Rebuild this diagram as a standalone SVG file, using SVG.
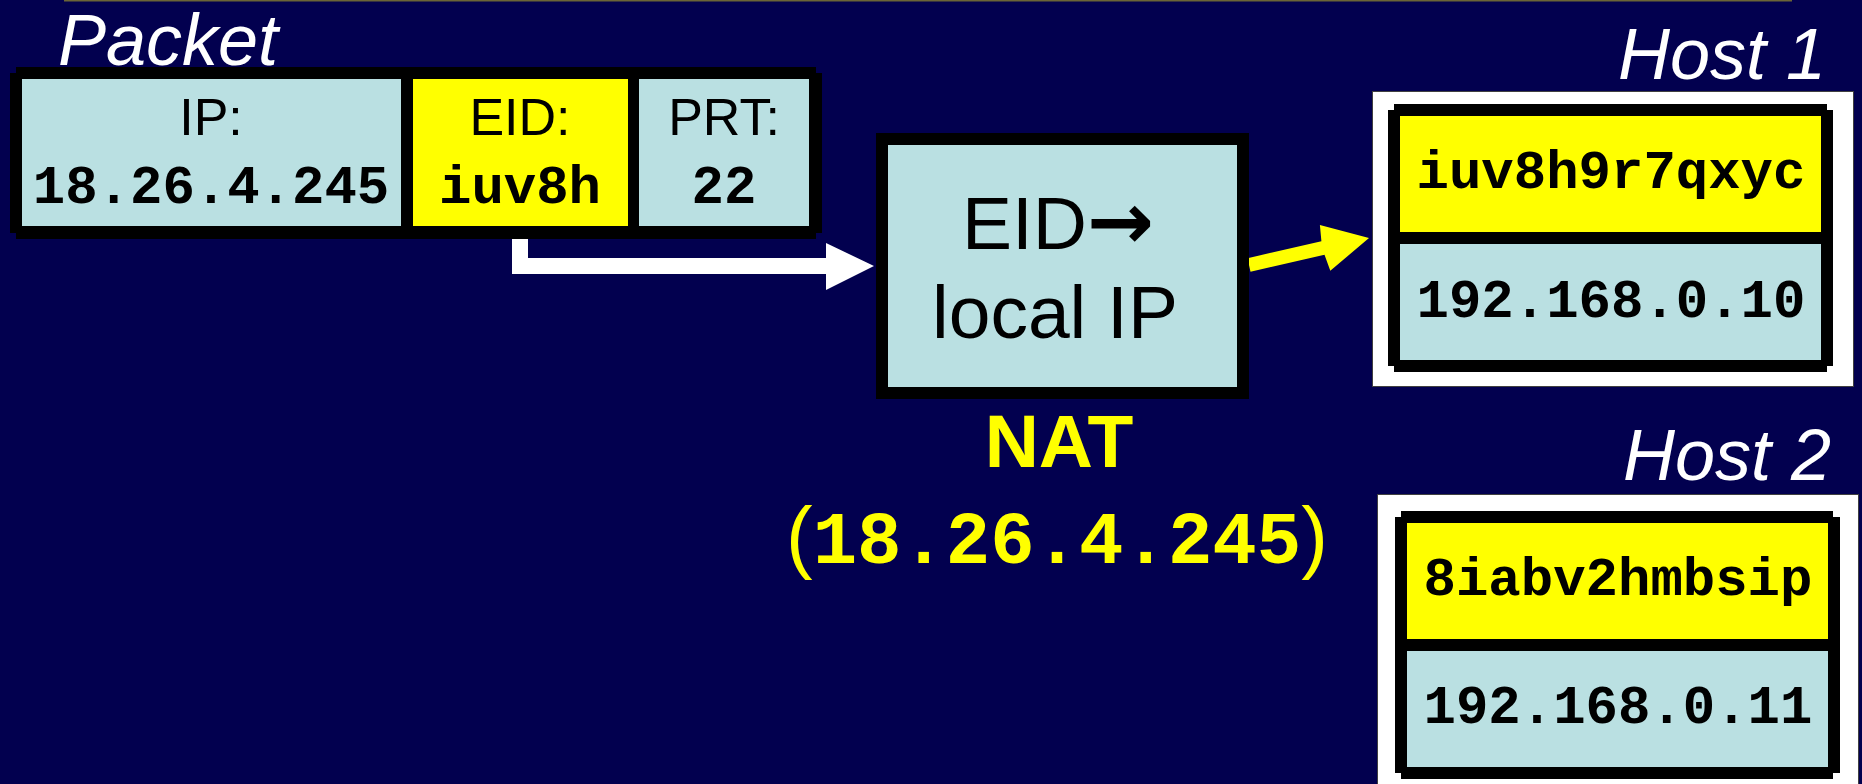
<svg xmlns="http://www.w3.org/2000/svg" width="1862" height="784" viewBox="0 0 1862 784">
  <style>
    .cellb { fill: #bae0e2; }
    .celly { fill: #ffff00; }
    .blk { fill: #000000; }
    .ttl { font-family: "Liberation Sans", Arial, sans-serif; font-style: italic; font-size: 72px; fill: #ffffff; }
    .lbl { font-family: "Liberation Sans", Arial, sans-serif; font-size: 52px; fill: #000000; text-anchor: middle; }
    .mono { font-family: "Liberation Mono", "Courier New", monospace; font-weight: bold; font-size: 54px; fill: #000000; text-anchor: middle; }
    .big { font-family: "Liberation Sans", Arial, sans-serif; font-size: 75px; fill: #000000; }
  </style>
  <rect x="0" y="0" width="1862" height="784" fill="#02004f"/>
  <line x1="64" y1="0.5" x2="1792" y2="0.5" stroke="#6b6436" stroke-width="2"/>

  <g id="connectors">
    <path d="M512,235 L528,235 L528,258 L826,258 L826,243 L874,266 L826,290 L826,274 L512,274 Z" fill="#ffffff"/>
    <polygon points="1247.5,258.2 1321.4,241.2 1319.9,225 1369,238 1330.3,270.8 1324.5,254.8 1250.5,271.8" fill="#ffff00"/>
  </g>

  <g id="packet">
    <text class="ttl" x="58" y="65">Packet</text>
    <rect class="blk" x="16" y="67" width="800" height="172"/>
    <rect class="blk" x="10" y="73" width="812" height="160"/>
    <rect class="cellb" x="22" y="79" width="379" height="147"/>
    <rect class="celly" x="413" y="79" width="215" height="147"/>
    <rect class="cellb" x="639" y="79" width="170" height="147"/>
    <text class="lbl" x="211" y="135">IP:</text>
    <text class="mono" x="211" y="203">18.26.4.245</text>
    <text class="lbl" x="520" y="135">EID:</text>
    <text class="mono" x="520" y="203">iuv8h</text>
    <text class="lbl" x="724" y="135">PRT:</text>
    <text class="mono" x="724" y="203">22</text>
  </g>

  <g id="nat">
    <rect class="blk" x="876" y="133" width="373" height="266"/>
    <rect class="cellb" x="888" y="145" width="349" height="242"/>
    <text class="big" x="962" y="249">EID<tspan font-family="DejaVu Sans, sans-serif" font-weight="bold" font-size="80">→</tspan></text>
    <text class="big" x="1055" y="338" text-anchor="middle">local IP</text>
    <text x="1059" y="467" font-family="Liberation Sans, Arial, sans-serif" font-weight="bold" font-size="75" fill="#ffff00" text-anchor="middle">NAT</text>
    <text x="786" y="563" fill="#ffff00"><tspan font-family="Liberation Sans, Arial, sans-serif" font-size="80">(</tspan><tspan font-family="Liberation Mono, Courier New, monospace" font-weight="bold" font-size="74">18.26.4.245</tspan><tspan font-family="Liberation Sans, Arial, sans-serif" font-size="80">)</tspan></text>
  </g>

  <g id="host1">
    <text class="ttl" x="1826" y="79" text-anchor="end">Host 1</text>
    <rect x="1372.5" y="91.5" width="481" height="295" fill="#ffffff" stroke="#404040" stroke-width="1"/>
    <rect class="blk" x="1394" y="104" width="433" height="268"/>
    <rect class="blk" x="1388" y="110" width="445" height="256"/>
    <rect class="celly" x="1400" y="116" width="421" height="116"/>
    <rect class="cellb" x="1400" y="244" width="421" height="116"/>
    <text class="mono" x="1611" y="188">iuv8h9r7qxyc</text>
    <text class="mono" x="1611" y="317">192.168.0.10</text>
  </g>

  <g id="host2">
    <text class="ttl" x="1831" y="480" text-anchor="end">Host 2</text>
    <rect x="1377.5" y="494.5" width="481" height="300" fill="#ffffff" stroke="#404040" stroke-width="1"/>
    <rect class="blk" x="1401" y="511" width="432" height="268"/>
    <rect class="blk" x="1395" y="517" width="445" height="256"/>
    <rect class="celly" x="1407" y="523" width="421" height="116"/>
    <rect class="cellb" x="1407" y="651" width="421" height="116"/>
    <text class="mono" x="1618" y="595">8iabv2hmbsip</text>
    <text class="mono" x="1618" y="723">192.168.0.11</text>
  </g>
</svg>
